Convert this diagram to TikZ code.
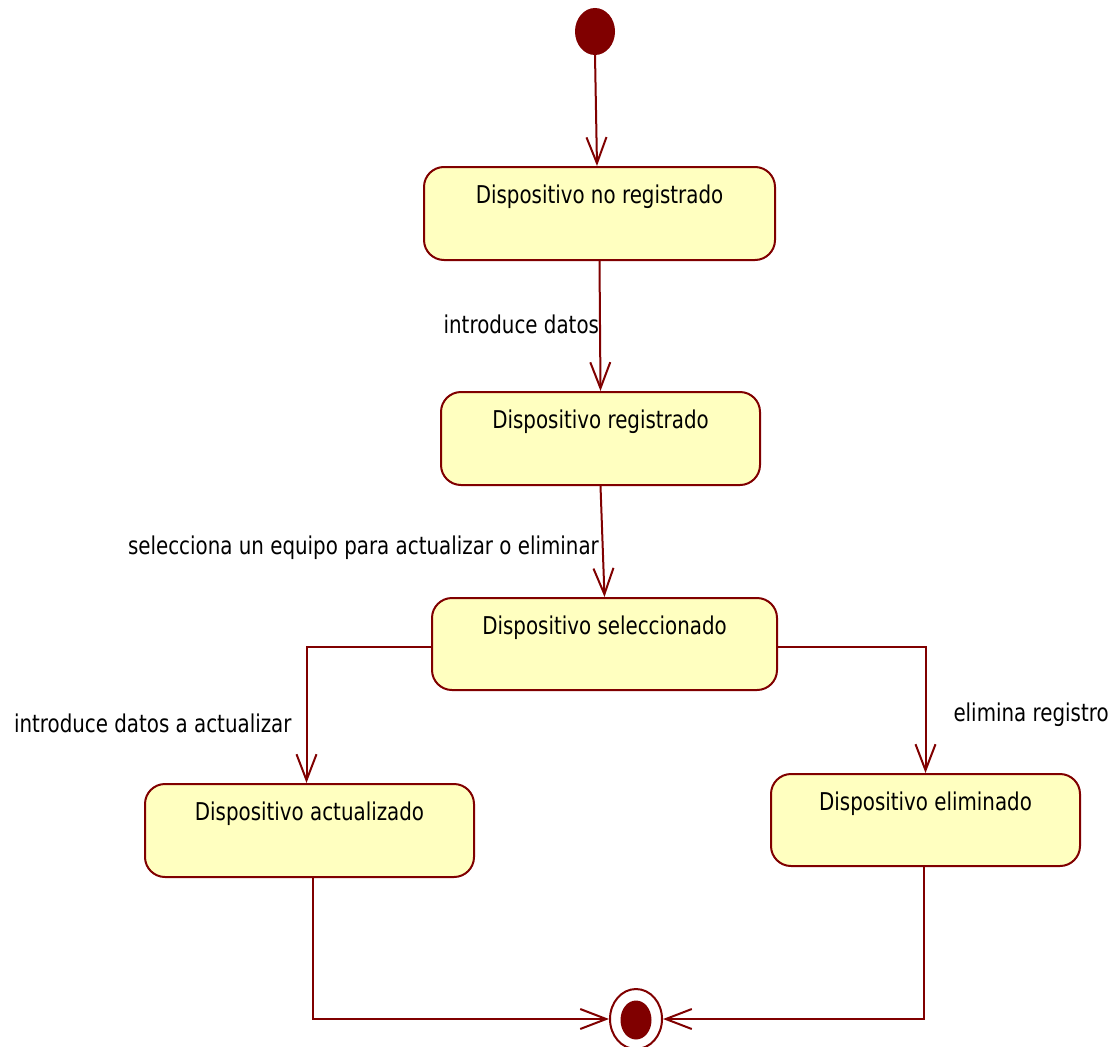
\documentclass[tikz,border=0pt]{standalone}
\usepackage{fontspec}
\setmainfont{DejaVu Sans}[FakeStretch=0.81]
\usetikzlibrary{arrows.meta,shapes.geometric}
\definecolor{umlred}{RGB}{128,0,0}
\definecolor{umlfill}{RGB}{255,255,192}
\begin{document}
\begin{tikzpicture}[x=1pt,y=-1pt,
  font=\fontsize{24.5}{28}\selectfont,
  statebox/.style={draw=umlred,fill=umlfill,line width=2pt,rounded corners=20pt,inner sep=0pt},
  title/.style={inner sep=0pt,anchor=north},
  tr/.style={draw=umlred,line width=2pt,-{Straight Barb[length=26pt,width=20pt,line width=2pt]}},
  lbl/.style={inner sep=0pt,text=black}]
\useasboundingbox (0,0) rectangle (1115,1046);

% initial pseudostate
\node[ellipse,fill=umlred,minimum width=40pt,minimum height=47pt,inner sep=0pt] (init) at (595,31.5) {};

% states
\node[statebox,minimum width=351pt,minimum height=93pt] (s1) at (599.5,213.5) {};
\node[title] (t1) at ([yshift=-19pt]s1.north) {Dispositivo no registrado};

\node[statebox,minimum width=319pt,minimum height=93pt] (s2) at (600.5,438.5) {};
\node[title] (t2) at ([yshift=-19pt]s2.north) {Dispositivo registrado};

\node[statebox,minimum width=345pt,minimum height=92pt] (s3) at (604.5,644) {};
\node[title] (t3) at ([yshift=-19pt]s3.north) {Dispositivo seleccionado};

\node[statebox,minimum width=329pt,minimum height=93pt] (s4) at (309.5,830.5) {};
\node[title] (t4) at ([yshift=-19pt]s4.north) {Dispositivo actualizado};

\node[statebox,minimum width=309pt,minimum height=92pt] (s5) at (925.5,820) {};
\node[title] (t5) at ([yshift=-19pt]s5.north) {Dispositivo eliminado};

% final state
\node[ellipse,draw=umlred,line width=2pt,fill=white,minimum width=52pt,minimum height=60pt,inner sep=0pt] (fin) at (636,1019) {};
\node[ellipse,fill=umlred,minimum width=31pt,minimum height=39pt,inner sep=0pt] (fincore) at (636,1020) {};

% transitions
\draw[tr] (init.south) -- ([xshift=2pt]init.south |- s1.north);
\draw[tr] (s1.south) -- node[lbl,pos=0.485,anchor=east] {introduce datos} (s2.north);
\draw[tr] (s2.south) -- node[lbl,pos=0.56,anchor=east,xshift=-3pt] {selecciona un equipo para actualizar o eliminar} (s3.north);
\draw[tr] ([yshift=-3pt]s3.west) -| node[lbl,pos=0.78,anchor=east,xshift=-14pt] {introduce datos a actualizar} ([xshift=-3pt]s4.north);
\draw[tr] ([yshift=-3pt]s3.east) -| node[lbl,pos=0.77,anchor=west,xshift=27pt] {elimina registro} (s5.north);
\draw[tr] ([xshift=3pt]s4.south) |- (fin.west);
\draw[tr] ([xshift=-2pt]s5.south) |- (fin.east);
\end{tikzpicture}
\end{document}
